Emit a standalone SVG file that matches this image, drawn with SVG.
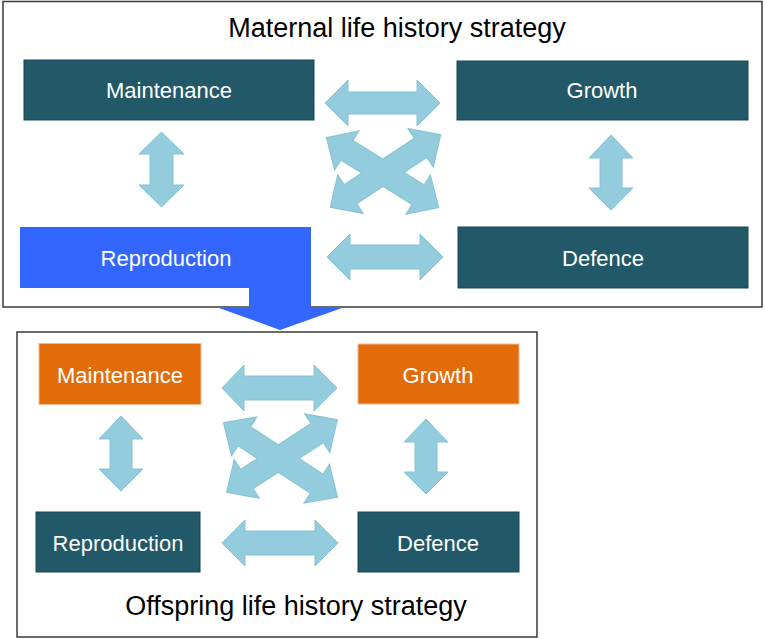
<svg xmlns="http://www.w3.org/2000/svg" xmlns:xlink="http://www.w3.org/1999/xlink" width="766" height="639" viewBox="0 0 766 639">
<style>
  .frame{fill:#ffffff;stroke:#3a3a3a;stroke-width:1.5}
  .teal{fill:#215968;stroke:#1a4756;stroke-width:1}
  .orange{fill:#E36C0A;stroke:#f3b98a;stroke-width:1}
  .blue{fill:#3366FF}
  .lbl{font-family:"Liberation Sans",Arial,sans-serif;font-size:22px;fill:#ffffff;text-anchor:middle}
  .title{font-family:"Liberation Sans",Arial,sans-serif;font-size:27px;fill:#000000;text-anchor:middle}
  .arr{fill:#93CDDD;stroke:#86c2d3;stroke-width:1}
  .arrs{fill:#86c2d3;stroke:#86c2d3;stroke-width:2}
  .arrf{fill:#93CDDD}
</style>
<defs>
  <path id="dbl" d="M-65.5,0 L-42.5,-22 L-42.5,-11 L42.5,-11 L42.5,-22 L65.5,0 L42.5,22 L42.5,11 L-42.5,11 L-42.5,22 Z"/>
</defs>

<g id="maternal-frame">
  <rect class="frame" x="3" y="1.5" width="759" height="305.5"/>
  <text class="title" x="397" y="37">Maternal life history strategy</text>
</g>

<g id="offspring-frame">
  <rect class="frame" x="17" y="332" width="520" height="305"/>
  <text class="title" x="296" y="615">Offspring life history strategy</text>
</g>

<g id="m-maintenance">
  <rect class="teal" x="24" y="60" width="290" height="60"/>
  <text class="lbl" x="169" y="98">Maintenance</text>
</g>
<g id="m-growth">
  <rect class="teal" x="457" y="61" width="291" height="59"/>
  <text class="lbl" x="602" y="98">Growth</text>
</g>
<g id="m-defence">
  <rect class="teal" x="458" y="227" width="290" height="61"/>
  <text class="lbl" x="603" y="266">Defence</text>
</g>
<g id="m-reproduction">
  <polygon class="blue" points="20,227 311,227 311,308 342,308 280,330 219,308 249,308 249,288 20,288"/>
  <text class="lbl" x="166" y="266">Reproduction</text>
</g>

<g id="o-maintenance">
  <rect class="orange" x="39" y="343.5" width="162" height="61"/>
  <text class="lbl" x="120" y="383">Maintenance</text>
</g>
<g id="o-growth">
  <rect class="orange" x="358" y="344" width="161" height="60"/>
  <text class="lbl" x="438" y="383">Growth</text>
</g>
<g id="o-reproduction">
  <rect class="teal" x="36" y="512" width="164" height="60"/>
  <text class="lbl" x="118" y="551">Reproduction</text>
</g>
<g id="o-defence">
  <rect class="teal" x="358" y="512" width="161" height="60"/>
  <text class="lbl" x="438" y="551">Defence</text>
</g>

<g id="connectors">
  <!-- maternal -->
  <path class="arr" d="M325,103 L348,80 L348,92 L417,92 L417,80 L440,103 L417,126 L417,114 L348,114 L348,126 Z"/>
  <path class="arr" d="M327,257 L350,234 L350,245 L420,245 L420,234 L443,257 L420,280 L420,269 L350,269 L350,280 Z"/>
  <path class="arr" d="M161.5,132 L184,154 L173,154 L173,185 L184,185 L161.5,207 L139,185 L150,185 L150,154 L139,154 Z"/>
  <path class="arr" d="M611,135 L633,158 L622,158 L622,188 L633,188 L611,210 L589,188 L600,188 L600,158 L589,158 Z"/>
  <use href="#dbl" xlink:href="#dbl" class="arrs" transform="translate(382.5,172.5) rotate(31.9)"/>
  <use href="#dbl" xlink:href="#dbl" class="arrs" transform="translate(385.5,171) rotate(-33.4)"/>
  <use href="#dbl" xlink:href="#dbl" class="arrf" transform="translate(382.5,172.5) rotate(31.9)"/>
  <use href="#dbl" xlink:href="#dbl" class="arrf" transform="translate(385.5,171) rotate(-33.4)"/>
  <!-- offspring -->
  <path class="arr" d="M222,388 L244,365 L244,376 L314,376 L314,365 L337,388 L314,411 L314,400 L244,400 L244,411 Z"/>
  <path class="arr" d="M222,543 L245,520 L245,531 L315,531 L315,520 L338,543 L315,566 L315,555 L245,555 L245,566 Z"/>
  <path class="arr" d="M121,416 L143,439 L132,439 L132,469 L143,469 L121,491 L99,469 L110,469 L110,439 L99,439 Z"/>
  <path class="arr" d="M426,419 L448,442 L437,442 L437,472 L448,472 L426,494 L404,472 L415,472 L415,442 L404,442 Z"/>
  <use href="#dbl" xlink:href="#dbl" class="arrs" transform="translate(280.5,460) rotate(33.2) scale(1.03,1)"/>
  <use href="#dbl" xlink:href="#dbl" class="arrs" transform="translate(282,456) rotate(-33.2)"/>
  <use href="#dbl" xlink:href="#dbl" class="arrf" transform="translate(280.5,460) rotate(33.2) scale(1.03,1)"/>
  <use href="#dbl" xlink:href="#dbl" class="arrf" transform="translate(282,456) rotate(-33.2)"/>
</g>
</svg>
